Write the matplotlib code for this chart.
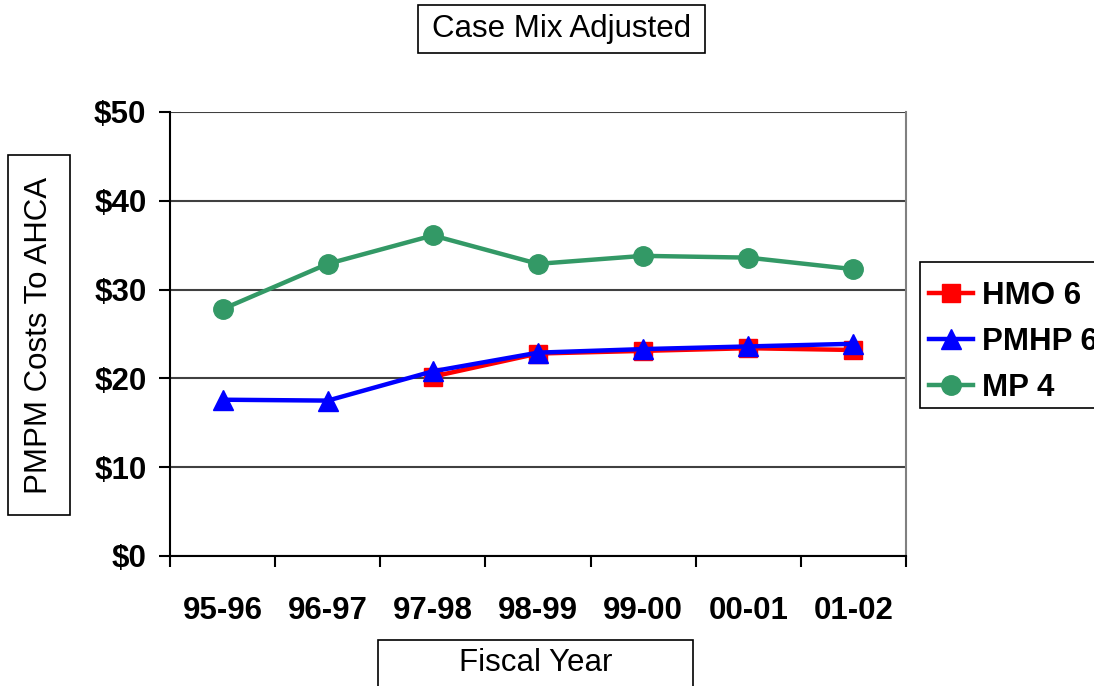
import numpy as np
from matplotlib import pyplot as plt
from matplotlib.patches import Rectangle

plt.rcParams['font.family'] = ['Liberation Sans', 'DejaVu Sans']

years = ["95-96", "96-97", "97-98", "98-99", "99-00", "00-01", "01-02"]
hmo = [np.nan, np.nan, 20.2, 22.8, 23.1, 23.4, 23.2]
pmhp = [17.6, 17.5, 20.8, 22.9, 23.3, 23.6, 23.9]
mp = [27.8, 32.9, 36.1, 32.9, 33.8, 33.6, 32.3]

W, H = 1094, 686
fig = plt.figure(figsize=(W / 100, H / 100), dpi=100)
ax = fig.add_axes([170 / W, 1 - 556 / H, 736 / W, 444 / H])

x = np.arange(len(years))
ax.plot(x, hmo, color="#FF0000", lw=3.2, marker="s", ms=13, label="HMO 6")
ax.plot(x, pmhp, color="#0000FF", lw=3.2, marker="^", ms=14, label="PMHP 6")
ax.plot(x, mp, color="#339966", lw=3.2, marker="o", ms=14, label="MP 4")

ax.set_xlim(-0.5, len(years) - 0.5)
ax.set_ylim(0, 50)
ax.set_yticks(range(0, 51, 10))
ax.set_yticklabels(["$%d" % v for v in range(0, 51, 10)], fontsize=22.5, fontweight="bold")
ax.yaxis.grid(True, color="#404040", lw=1.5)
ax.set_axisbelow(True)

ax.set_xticks(np.arange(-0.5, len(years), 1.0))
ax.set_xticklabels([])
ax.set_xticks(x, minor=True)
ax.set_xticklabels(years, minor=True, fontsize=22.5, fontweight="bold")
ax.tick_params(axis="x", which="minor", length=0, pad=29)
ax.tick_params(axis="both", which="major", direction="out", length=8, width=1.5, color="black")
ax.tick_params(axis="y", pad=9)

ax.spines["top"].set_visible(False)
ax.spines["right"].set_color("#808080")
ax.spines["right"].set_linewidth(1.5)
ax.spines["left"].set_linewidth(1.5)
ax.spines["bottom"].set_linewidth(1.5)

# legend frame drawn separately (behind the legend) so the box matches the original
fig.add_artist(Rectangle((920 / W, 1 - 408 / H), 200 / W, 146 / H, transform=fig.transFigure,
                         facecolor="white", edgecolor="black", lw=1.2, zorder=-1))
leg = ax.legend(loc="upper left", bbox_to_anchor=(920 / W, 1 - 272 / H), bbox_transform=fig.transFigure,
                borderaxespad=0, frameon=False,
                prop={"size": 22.5, "weight": "bold"}, handlelength=1.4, handletextpad=0.3,
                labelspacing=0.5, borderpad=0.3)

# boxed titles
for (x0, y0, x1, y1) in [(418, 5, 705, 53), (8, 155, 70, 515), (378, 640, 693, 690)]:
    fig.add_artist(Rectangle((x0 / W, 1 - y1 / H), (x1 - x0) / W, (y1 - y0) / H,
                             transform=fig.transFigure, facecolor="white", edgecolor="black", lw=1.2))
fig.text(561.5 / W, 1 - 29 / H, "Case Mix Adjusted", ha="center", va="center", fontsize=22.5)
fig.text(39 / W, 1 - 335 / H, "PMPM Costs To AHCA", ha="center", va="center", rotation=90, fontsize=22.5)
fig.text(535.5 / W, 1 - 663 / H, "Fiscal Year", ha="center", va="center", fontsize=22.5)

fig.savefig("out.png", dpi=100)
